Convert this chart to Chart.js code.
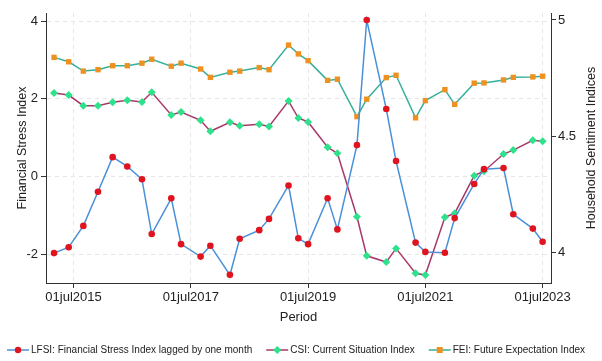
<!DOCTYPE html>
<html>
<head>
<meta charset="utf-8">
<script src="https://cdn.jsdelivr.net/npm/chart.js@4.4.1/dist/chart.umd.min.js"></script>
<style>
  html, body { margin: 0; padding: 0; background: #fff; }
</style>
</head>
<body>
<canvas id="chart" width="602" height="361"></canvas>
<script>
// survey months (year-month)
const periods = ['2015-03','2015-06','2015-09','2015-12','2016-03','2016-06','2016-09','2016-11',
  '2017-03','2017-05','2017-09','2017-11','2018-03','2018-05','2018-09','2018-11',
  '2019-03','2019-05','2019-07','2019-11','2020-01','2020-05','2020-07','2020-11',
  '2021-01','2021-05','2021-07','2021-11','2022-01','2022-05','2022-07','2022-11',
  '2023-01','2023-05','2023-07'];

const lfsi = [-1.97,-1.82,-1.27,-0.39,0.50,0.26,-0.07,-1.48,-0.56,-1.74,-2.06,-1.78,-2.53,-1.60,-1.38,-1.09,
  -0.23,-1.59,-1.74,-0.56,-1.36,0.81,4.03,1.74,0.40,-1.70,-1.94,-1.96,-1.07,-0.19,0.19,0.22,-0.97,-1.34,-1.68];

const csi = [4.686,4.677,4.631,4.631,4.646,4.654,4.647,4.689,4.591,4.604,4.568,4.521,4.560,4.545,4.551,4.542,
  4.651,4.578,4.561,4.452,4.426,4.153,3.985,3.958,4.017,3.910,3.902,4.151,4.168,4.330,4.349,4.423,4.440,4.482,4.478];

const fei = [4.839,4.820,4.780,4.786,4.803,4.803,4.814,4.831,4.801,4.814,4.789,4.753,4.775,4.780,4.795,4.786,
  4.892,4.854,4.825,4.740,4.745,4.584,4.659,4.752,4.762,4.579,4.653,4.700,4.637,4.728,4.729,4.742,4.753,4.755,4.758];

const xTicks = [2015.5, 2017.5, 2019.5, 2021.5, 2023.5];
const leftTicks = [-2, 0, 2, 4];
const rightTicks = [4, 4.5, 5];

const FONT = "'Liberation Sans', Arial, sans-serif";
Chart.defaults.font.family = FONT;
Chart.defaults.color = '#222';

function toYear(p) {
  const [y, m] = p.split('-').map(Number);
  return y + (m - 1) / 12;
}

function series(values) {
  return values.map((v, i) => ({ x: toYear(periods[i]), y: v }));
}

// legend drawn by hand: line with the marker in the middle, then the label
const bottomLegend = {
  id: 'bottomLegend',
  afterDraw(chart) {
    const ctx = chart.ctx;
    ctx.save();
    ctx.font = '10px ' + FONT;
    ctx.textBaseline = 'middle';
    const y = 350;
    let x = 7;
    chart.data.datasets.forEach(ds => {
      ctx.strokeStyle = ds.borderColor;
      ctx.lineWidth = 1.5;
      ctx.beginPath(); ctx.moveTo(x, y); ctx.lineTo(x + 22, y); ctx.stroke();
      ctx.fillStyle = ds.pointBackgroundColor;
      const cx = x + 11;
      ctx.beginPath();
      if (ds.pointStyle === 'circle') ctx.arc(cx, y, 3.2, 0, Math.PI * 2);
      else if (ds.pointStyle === 'rectRot') { ctx.moveTo(cx, y - 4); ctx.lineTo(cx + 4, y); ctx.lineTo(cx, y + 4); ctx.lineTo(cx - 4, y); ctx.closePath(); }
      else ctx.rect(cx - 3, y - 3, 6, 6);
      ctx.fill();
      ctx.fillStyle = '#222';
      ctx.fillText(ds.label, x + 24, y);
      x += 24 + ctx.measureText(ds.label).width + 14;
    });
    ctx.restore();
  }
};

const rightTitle = {
  id: 'rightTitle',
  afterDraw(chart) {
    const { ctx, chartArea } = chart;
    ctx.save();
    ctx.translate(592, (chartArea.top + chartArea.bottom) / 2);
    ctx.rotate(-Math.PI / 2);
    ctx.font = '12.5px ' + FONT;
    ctx.fillStyle = '#222';
    ctx.textAlign = 'center';
    ctx.textBaseline = 'middle';
    ctx.fillText('Household Sentiment Indices', 0, 0);
    ctx.restore();
  }
};

new Chart(document.getElementById('chart'), {
  type: 'line',
  data: {
    datasets: [
      {
        label: 'LFSI: Financial Stress Index lagged by one month',
        data: series(lfsi),
        yAxisID: 'y',
        borderColor: '#4a90d9',
        borderWidth: 1.5,
        pointStyle: 'circle',
        pointRadius: 3.3,
        pointBackgroundColor: '#e0141e',
        pointBorderWidth: 0
      },
      {
        label: 'CSI: Current Situation Index',
        data: series(csi),
        yAxisID: 'y1',
        borderColor: '#a8386a',
        borderWidth: 1.5,
        pointStyle: 'rectRot',
        pointRadius: 4,
        pointBackgroundColor: '#2de28a',
        pointBorderWidth: 0
      },
      {
        label: 'FEI: Future Expectation Index',
        data: series(fei),
        yAxisID: 'y1',
        borderColor: '#35b09a',
        borderWidth: 1.5,
        pointStyle: 'rect',
        pointRadius: 3.8,
        pointBackgroundColor: '#f0901e',
        pointBorderWidth: 0
      }
    ]
  },
  options: {
    responsive: false,
    animation: false,
    layout: { padding: { top: 13, left: 0, right: 0, bottom: 22 } },
    plugins: {
      tooltip: { enabled: false },
      legend: { display: false }
    },
    scales: {
      x: {
        type: 'linear',
        min: 2015.03,
        max: 2023.643,
        afterBuildTicks: s => { s.ticks = xTicks.map(v => ({ value: v })); },
        afterFit: s => { s.height = 56; },
        ticks: {
          callback: v => '01jul' + Math.floor(v),
          font: { size: 13 },
          color: '#222',
          padding: 2,
          maxRotation: 0,
          autoSkip: false
        },
        grid: { color: '#e6e6e6', tickColor: '#333', tickLength: 5 },
        border: { color: '#333', dash: [4, 4] },
        title: { display: true, text: 'Period', font: { size: 13 }, color: '#222', padding: { top: 0, bottom: 14 } }
      },
      y: {
        position: 'left',
        min: -2.74,
        max: 4.21,
        afterBuildTicks: s => { s.ticks = leftTicks.map(v => ({ value: v })); },
        afterFit: s => { s.width = 46; },
        ticks: { callback: v => String(v), font: { size: 13 }, color: '#222', padding: 3 },
        grid: { color: '#e6e6e6', tickColor: '#333', tickLength: 5 },
        border: { color: '#333', dash: [4, 4] },
        title: { display: true, text: 'Financial Stress Index', font: { size: 12.5 }, color: '#222', padding: { top: 15, bottom: 0 } }
      },
      y1: {
        position: 'right',
        min: 3.868,
        max: 5.03,
        afterBuildTicks: s => { s.ticks = rightTicks.map(v => ({ value: v })); },
        afterFit: s => { s.width = 51; },
        ticks: { callback: v => String(v), font: { size: 13 }, color: '#222', padding: 2 },
        grid: { drawOnChartArea: false, tickColor: '#333', tickLength: 5 },
        border: { color: '#333' }
      }
    }
  },
  plugins: [rightTitle, bottomLegend]
});
</script>
</body>
</html>
